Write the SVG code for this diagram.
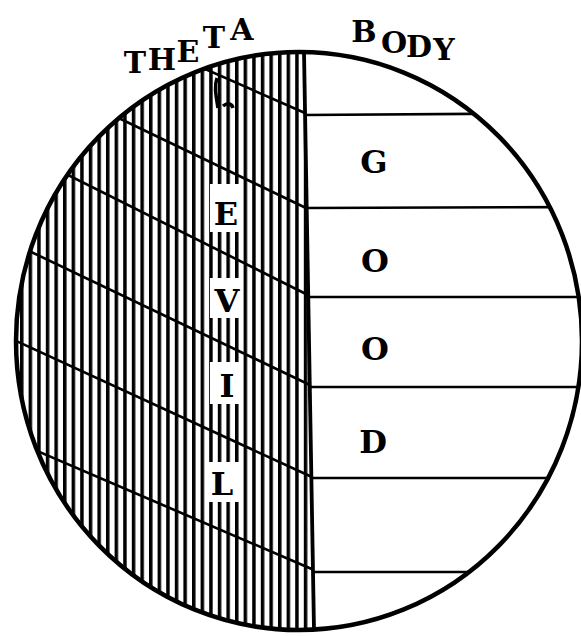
<svg xmlns="http://www.w3.org/2000/svg" width="581" height="636" viewBox="0 0 581 636">
  <defs>
    <pattern id="hatch" patternUnits="userSpaceOnUse" x="20" y="0" width="8.6" height="20">
      <rect x="0" y="0" width="3.5" height="20" fill="#000"/>
    </pattern>
    <clipPath id="leftHalf">
      <path d="M304,52.05 L314,629.6 A283,289 0 1 1 304,52.05 Z"/>
    </clipPath>
    <clipPath id="rightHalf">
      <path d="M304,52.05 L314,629.6 A283,289 0 0 0 304,52.05 Z"/>
    </clipPath>
  </defs>
  <style>
    .lbl { font-family: "DejaVu Serif", "Liberation Serif", serif; font-weight: bold; font-size: 32px; fill: #000; }
    .ttl { font-size: 30px; }
    .rule { stroke: #000; stroke-width: 2.6; fill: none; stroke-linecap: round; }
  </style>
  <rect width="581" height="636" fill="#fff"/>

  <g id="theta-half" clip-path="url(#leftHalf)">
    <rect x="0" y="40" width="320" height="600" fill="url(#hatch)"/>
    <g fill="#fff">
      <rect x="210" y="184" width="32" height="48"/>
      <rect x="210" y="278" width="32" height="40"/>
      <rect x="210" y="362" width="32" height="42"/>
      <rect x="207" y="462" width="32" height="40"/>
    </g>
    <g class="rule">
      <line x1="305" y1="113" x2="0" y2="-21.2"/>
      <line x1="306" y1="208" x2="0" y2="61.1"/>
      <line x1="308" y1="295" x2="0" y2="141"/>
      <line x1="310" y1="385" x2="0" y2="237.1"/>
      <line x1="312" y1="477" x2="0" y2="333.5"/>
      <line x1="314" y1="570" x2="0" y2="435"/>
    </g>
    <path d="M217,78 C214,86 216,96 218,108 M223,106 C228,102 232,104 233,108" stroke="#000" stroke-width="3.5" fill="none"/>
    <g id="evil" class="lbl" text-anchor="middle">
      <text x="226" y="225">E</text>
      <text x="227" y="312">V</text>
      <text x="227" y="397">I</text>
      <text x="222" y="495">L</text>
    </g>
  </g>

  <g id="body-half">
    <g class="rule" clip-path="url(#rightHalf)">
      <line x1="300" y1="115" x2="600" y2="113"/>
      <line x1="300" y1="208" x2="600" y2="207"/>
      <line x1="300" y1="297" x2="600" y2="297"/>
      <line x1="300" y1="387" x2="600" y2="387"/>
      <line x1="300" y1="478" x2="600" y2="478"/>
      <line x1="300" y1="572" x2="600" y2="572"/>
    </g>
    <g id="good" class="lbl" text-anchor="middle">
      <text x="374" y="173">G</text>
      <text x="375" y="272">O</text>
      <text x="375" y="360">O</text>
      <text x="373" y="453">D</text>
    </g>
  </g>

  <g id="outline">
    <line x1="304" y1="52" x2="314" y2="630" stroke="#000" stroke-width="3.8"/>
    <ellipse cx="299" cy="341" rx="283" ry="289" fill="none" stroke="#000" stroke-width="4.5"/>
  </g>

  <g id="titles" class="lbl ttl" text-anchor="middle">
    <text id="theta"><tspan x="135" y="73">T</tspan><tspan x="162" y="70">H</tspan><tspan x="188" y="62">E</tspan><tspan x="214" y="48">T</tspan><tspan x="242" y="40">A</tspan></text>
    <text id="body"><tspan x="364" y="42">B</tspan><tspan x="394" y="53">O</tspan><tspan x="419" y="57">D</tspan><tspan x="444" y="60">Y</tspan></text>
  </g>
</svg>
